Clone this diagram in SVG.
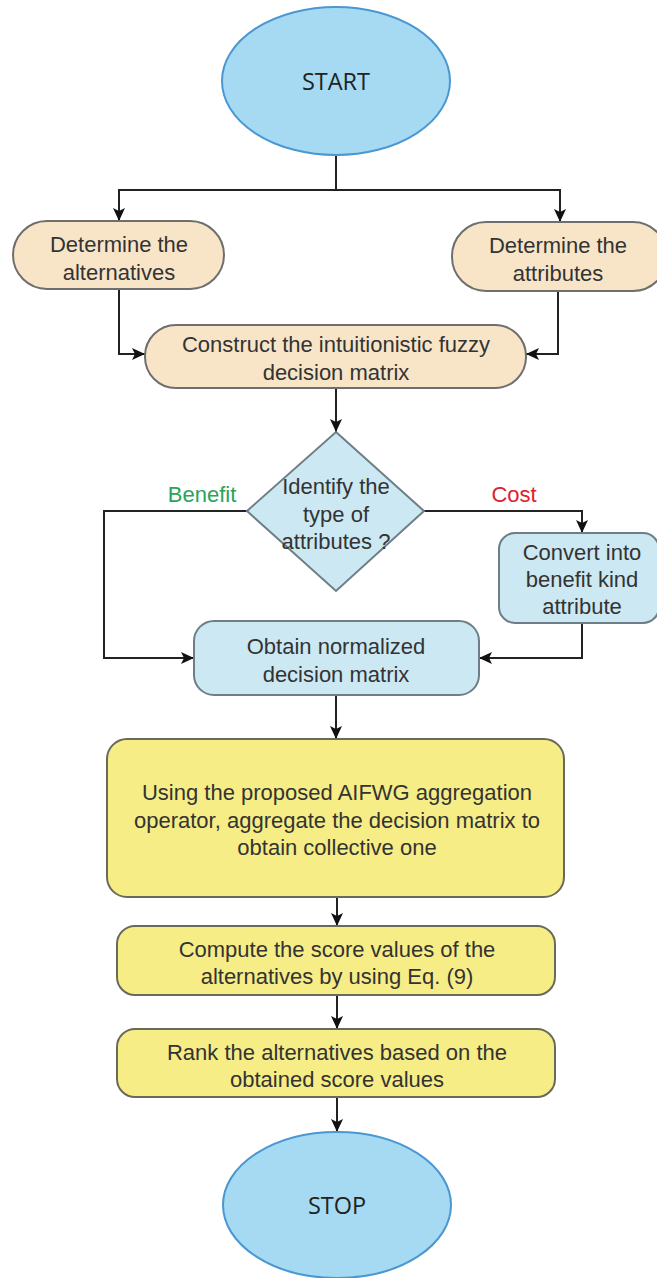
<svg xmlns="http://www.w3.org/2000/svg" width="657" height="1278" viewBox="0 0 657 1278">
<style>
.t{font-family:"Liberation Sans",Arial,sans-serif;font-size:22px;fill:#333;text-anchor:middle}
.term{fill:#a6daf2;stroke:#4a97d2;stroke-width:2}
.tt{font-family:"Open Sans","DejaVu Sans",sans-serif;font-size:23.5px;fill:#222;text-anchor:middle}
.peach{fill:#f8e5c8;stroke:#6e6e6e;stroke-width:2}
.blue{fill:#cbe8f3;stroke:#6e7e86;stroke-width:2}
.yel{fill:#f6ed86;stroke:#6a6a5a;stroke-width:2}
.c{fill:none;stroke:#222;stroke-width:2}
.lbl{font-family:"Liberation Sans",Arial,sans-serif;font-size:22px;text-anchor:middle}
</style>
<defs>
<marker id="ah" markerUnits="userSpaceOnUse" markerWidth="14" markerHeight="14" refX="13" refY="7" orient="auto">
<path d="M0,1 L13,7 L0,13 L3,7 Z" fill="#111"/>
</marker>
</defs>
<rect width="657" height="1278" fill="#fff"/>
<g id="connectors">
<path class="c" d="M336,155 V190 H119 V221" marker-end="url(#ah)"/>
<path class="c" d="M336,190 H560 V222" marker-end="url(#ah)"/>
<path class="c" d="M119,289 V354 H145" marker-end="url(#ah)"/>
<path class="c" d="M558,291 V354 H526" marker-end="url(#ah)"/>
<path class="c" d="M336,388 V432" marker-end="url(#ah)"/>
<path class="c" d="M247,511 H104 V658 H194" marker-end="url(#ah)"/>
<path class="c" d="M424,511 H582 V533" marker-end="url(#ah)"/>
<path class="c" d="M582,623 V658 H479" marker-end="url(#ah)"/>
<path class="c" d="M336,695 V739" marker-end="url(#ah)"/>
<path class="c" d="M337,897 V926" marker-end="url(#ah)"/>
<path class="c" d="M337,995 V1029" marker-end="url(#ah)"/>
<path class="c" d="M337,1097 V1132" marker-end="url(#ah)"/>
<text class="lbl" x="202" y="502" fill="#2aa35a">Benefit</text>
<text class="lbl" x="514" y="502" fill="#e0202a">Cost</text>
</g>
<g id="start">
<ellipse class="term" cx="336" cy="81" rx="114" ry="74"/>
<text class="tt" x="336" y="90">START</text>
</g>
<g id="alternatives">
<rect class="peach" x="13" y="221" width="211" height="68" rx="34"/>
<text class="t" x="119" y="252">Determine the</text>
<text class="t" x="119" y="280">alternatives</text>
</g>
<g id="attributes">
<rect class="peach" x="452" y="222" width="215" height="69" rx="34"/>
<text class="t" x="558" y="253">Determine the</text>
<text class="t" x="558" y="281">attributes</text>
</g>
<g id="construct">
<rect class="peach" x="145" y="325" width="381" height="63" rx="31"/>
<text class="t" x="336" y="352">Construct the intuitionistic fuzzy</text>
<text class="t" x="336" y="380">decision matrix</text>
</g>
<g id="identify">
<polygon class="blue" points="336,432 424,511 336,591 247,511"/>
<text class="t" x="336" y="494">Identify the</text>
<text class="t" x="336" y="522">type of</text>
<text class="t" x="336" y="549">attributes ?</text>
</g>
<g id="convert">
<rect class="blue" x="499" y="533" width="160" height="90" rx="16"/>
<text class="t" x="582" y="560">Convert into</text>
<text class="t" x="582" y="587">benefit kind</text>
<text class="t" x="582" y="614">attribute</text>
</g>
<g id="normalize">
<rect class="blue" x="194" y="621" width="285" height="74" rx="20"/>
<text class="t" x="336" y="654">Obtain normalized</text>
<text class="t" x="336" y="682">decision matrix</text>
</g>
<g id="aggregate">
<rect class="yel" x="107" y="739" width="457" height="158" rx="20"/>
<text class="t" x="337" y="800">Using the proposed AIFWG aggregation</text>
<text class="t" x="337" y="828">operator, aggregate the decision matrix to</text>
<text class="t" x="337" y="855">obtain collective one</text>
</g>
<g id="score">
<rect class="yel" x="117" y="926" width="438" height="69" rx="18"/>
<text class="t" x="337" y="957">Compute the score values of the</text>
<text class="t" x="337" y="984">alternatives by using Eq. (9)</text>
</g>
<g id="rank">
<rect class="yel" x="117" y="1029" width="438" height="68" rx="18"/>
<text class="t" x="337" y="1060">Rank the alternatives based on the</text>
<text class="t" x="337" y="1087">obtained score values</text>
</g>
<g id="stop">
<ellipse class="term" cx="337" cy="1205" rx="114" ry="73"/>
<text class="tt" x="337" y="1214">STOP</text>
</g>
</svg>
